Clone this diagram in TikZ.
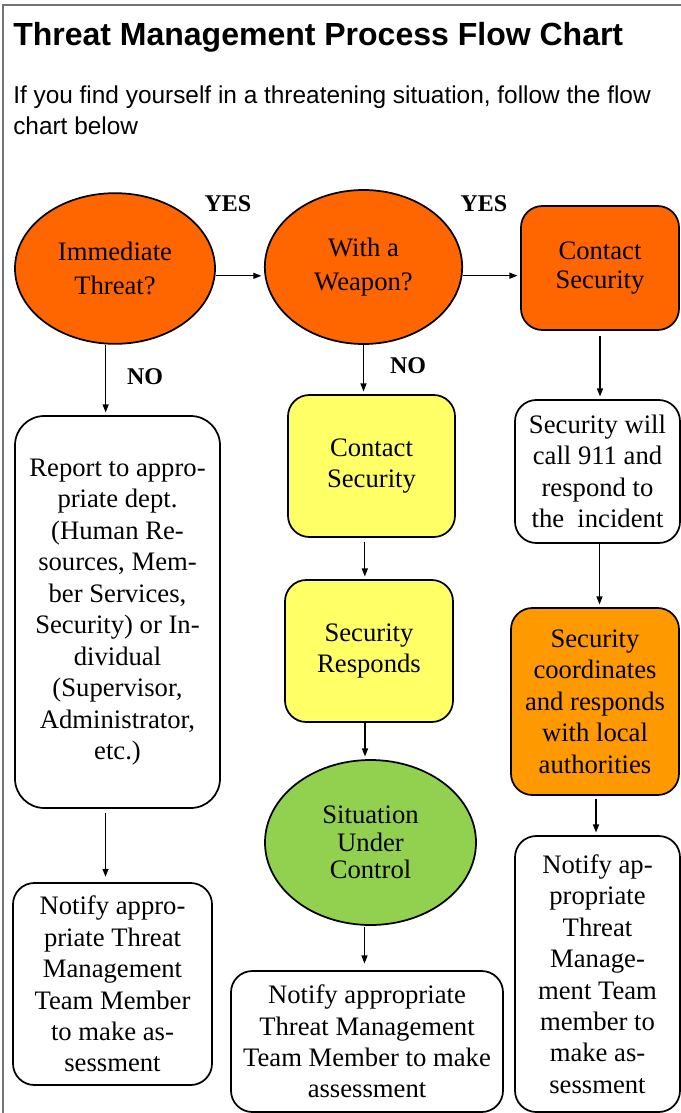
\documentclass[tikz,border=0pt]{standalone}
\usepackage{fontspec}
\setmainfont{Liberation Serif}
\newfontfamily\headfont{Liberation Sans}
\usetikzlibrary{shapes.geometric,arrows.meta}
\definecolor{hotorange}{HTML}{FF6600}
\definecolor{amber}{HTML}{FF9900}
\definecolor{lemon}{HTML}{FFFF66}
\definecolor{leaf}{HTML}{92D050}
\tikzset{
  blk/.style={draw=black,line width=1.3pt,align=center,inner sep=0pt,
    font=\fontsize{20}{23.6}\selectfont},
  rbox/.style={blk,rectangle,rounded corners=16pt},
  oval/.style={blk,ellipse},
  arr/.style={-{Triangle[length=6pt,width=4.5pt]},line width=0.9pt,shorten >=2pt},
  yn/.style={font=\fontsize{18}{20}\selectfont\bfseries,anchor=base}
}
\begin{document}
\begin{tikzpicture}[x=0.75pt,y=-0.75pt]
\useasboundingbox (0,0) rectangle (681,1113);
%frame, only top and left show
\draw[black!55,line width=1.5pt] (3,1113) -- (3,5) -- (681,5);
\node[anchor=base west,inner sep=0pt,font=\headfont\bfseries\fontsize{24}{28}\selectfont] (title) at (13,46) {Threat Management Process Flow Chart};
%base of an align node is its last line
\node[anchor=base west,inner sep=0pt,align=left,font=\headfont\fontsize{18.3}{23.25}\selectfont] (intro) at (13,134) {If you find yourself in a threatening situation, follow the flow\\chart below};

    \node[oval,fill=hotorange,minimum width=150pt,minimum height=113pt,font=\fontsize{20}{25}\selectfont] (imm) at (115,268.5) {Immediate\\Threat?};
    \node[oval,fill=hotorange,minimum width=148pt,minimum height=115.5pt,font=\fontsize{20}{25}\selectfont] (wpn) at (363.5,267) {With a\\Weapon?};
    \node[rbox,fill=hotorange,minimum width=118.5pt,minimum height=93pt,font=\fontsize{20}{21.7}\selectfont] (cs1) at (600,268) {Contact\\Security};

    \node[rbox,rounded corners=22pt,minimum width=153.75pt,minimum height=294pt] (rep) at (117.5,612) {Report to appro-\\priate dept.\\(Human Re-\\sources, Mem-\\ber Services,\\Security) or In-\\dividual\\(Supervisor,\\Administrator,\\etc.)};
    \node[rbox,fill=lemon,minimum width=125.25pt,minimum height=106.5pt] (cs2) at (371.5,466) {Contact\\Security};
    \node[rbox,fill=lemon,minimum width=126pt,minimum height=106.5pt] (resp) at (369,651) {Security\\Responds};
    \node[oval,fill=leaf,minimum width=158.25pt,minimum height=123.75pt,font=\fontsize{20}{20.6}\selectfont] (ctrl) at (370.5,842.5) {Situation\\Under\\Control};
    \node[rbox,minimum width=123.75pt,minimum height=107.25pt] (call) at (597.5,471.5) {Security will\\call 911 and\\respond to\\the~ incident};
    \node[rbox,fill=amber,minimum width=126pt,minimum height=140.25pt] (coord) at (595,701.5) {Security\\coordinates\\and responds\\with local\\authorities};

    \node[rbox,minimum width=149.25pt,minimum height=151.5pt] (not1) at (112.5,984) {Notify appro-\\priate Threat\\Management\\Team Member\\to make as-\\sessment};
    \node[rbox,minimum width=204pt,minimum height=105.75pt] (not2) at (367,1041.5) {Notify appropriate\\Threat Management\\Team Member to make\\assessment};
    \node[rbox,minimum width=123.75pt,minimum height=207pt] (not3) at (597.5,974) {Notify ap-\\propriate\\Threat\\Manage-\\ment Team\\member to\\make as-\\sessment};

    \node[yn] (yes1) at (228,211) {YES};
    \node[yn] (yes2) at (484,211) {YES};
    \node[yn] (no1) at (145,384) {NO};
    \node[yn] (no2) at (408,373) {NO};

    \draw[arr] ([yshift=-5.5pt]imm.east) -- ([yshift=-5.5pt]imm.east -| wpn.west);
    \draw[arr] ([yshift=-6.5pt]wpn.east) -- ([yshift=-6.5pt]wpn.east -| cs1.west);
    \draw[arr] ([xshift=-7pt]imm.south) -- ([xshift=-7pt]imm.south |- rep.north);
    \draw[arr] (wpn.south) -- (wpn.south |- cs2.north);
    \draw[arr,shorten <=4pt] (cs1.south) -- (cs1.south |- call.north);
    \draw[arr,shorten <=3pt] ([xshift=-5pt]cs2.south) -- ([xshift=-5pt]cs2.south |- resp.north);
    \draw[arr] ([xshift=-3pt]resp.south) -- ([xshift=-3pt]resp.south |- ctrl.north);
    \draw[arr] ([xshift=1.5pt]call.south) -- ([xshift=1.5pt]call.south |- coord.north);
    \draw[arr,shorten <=3pt,shorten >=4pt] ([xshift=-9pt]rep.south) -- ([xshift=-9pt]rep.south |- not1.north);
    \draw[arr,shorten <=1pt,shorten >=5pt] ([xshift=-4.5pt]ctrl.south) -- ([xshift=-4.5pt]ctrl.south |- not2.north);
    \draw[arr,shorten <=2pt] ([xshift=0.75pt]coord.south) -- ([xshift=0.75pt]coord.south |- not3.north);
\end{tikzpicture}
\end{document}
